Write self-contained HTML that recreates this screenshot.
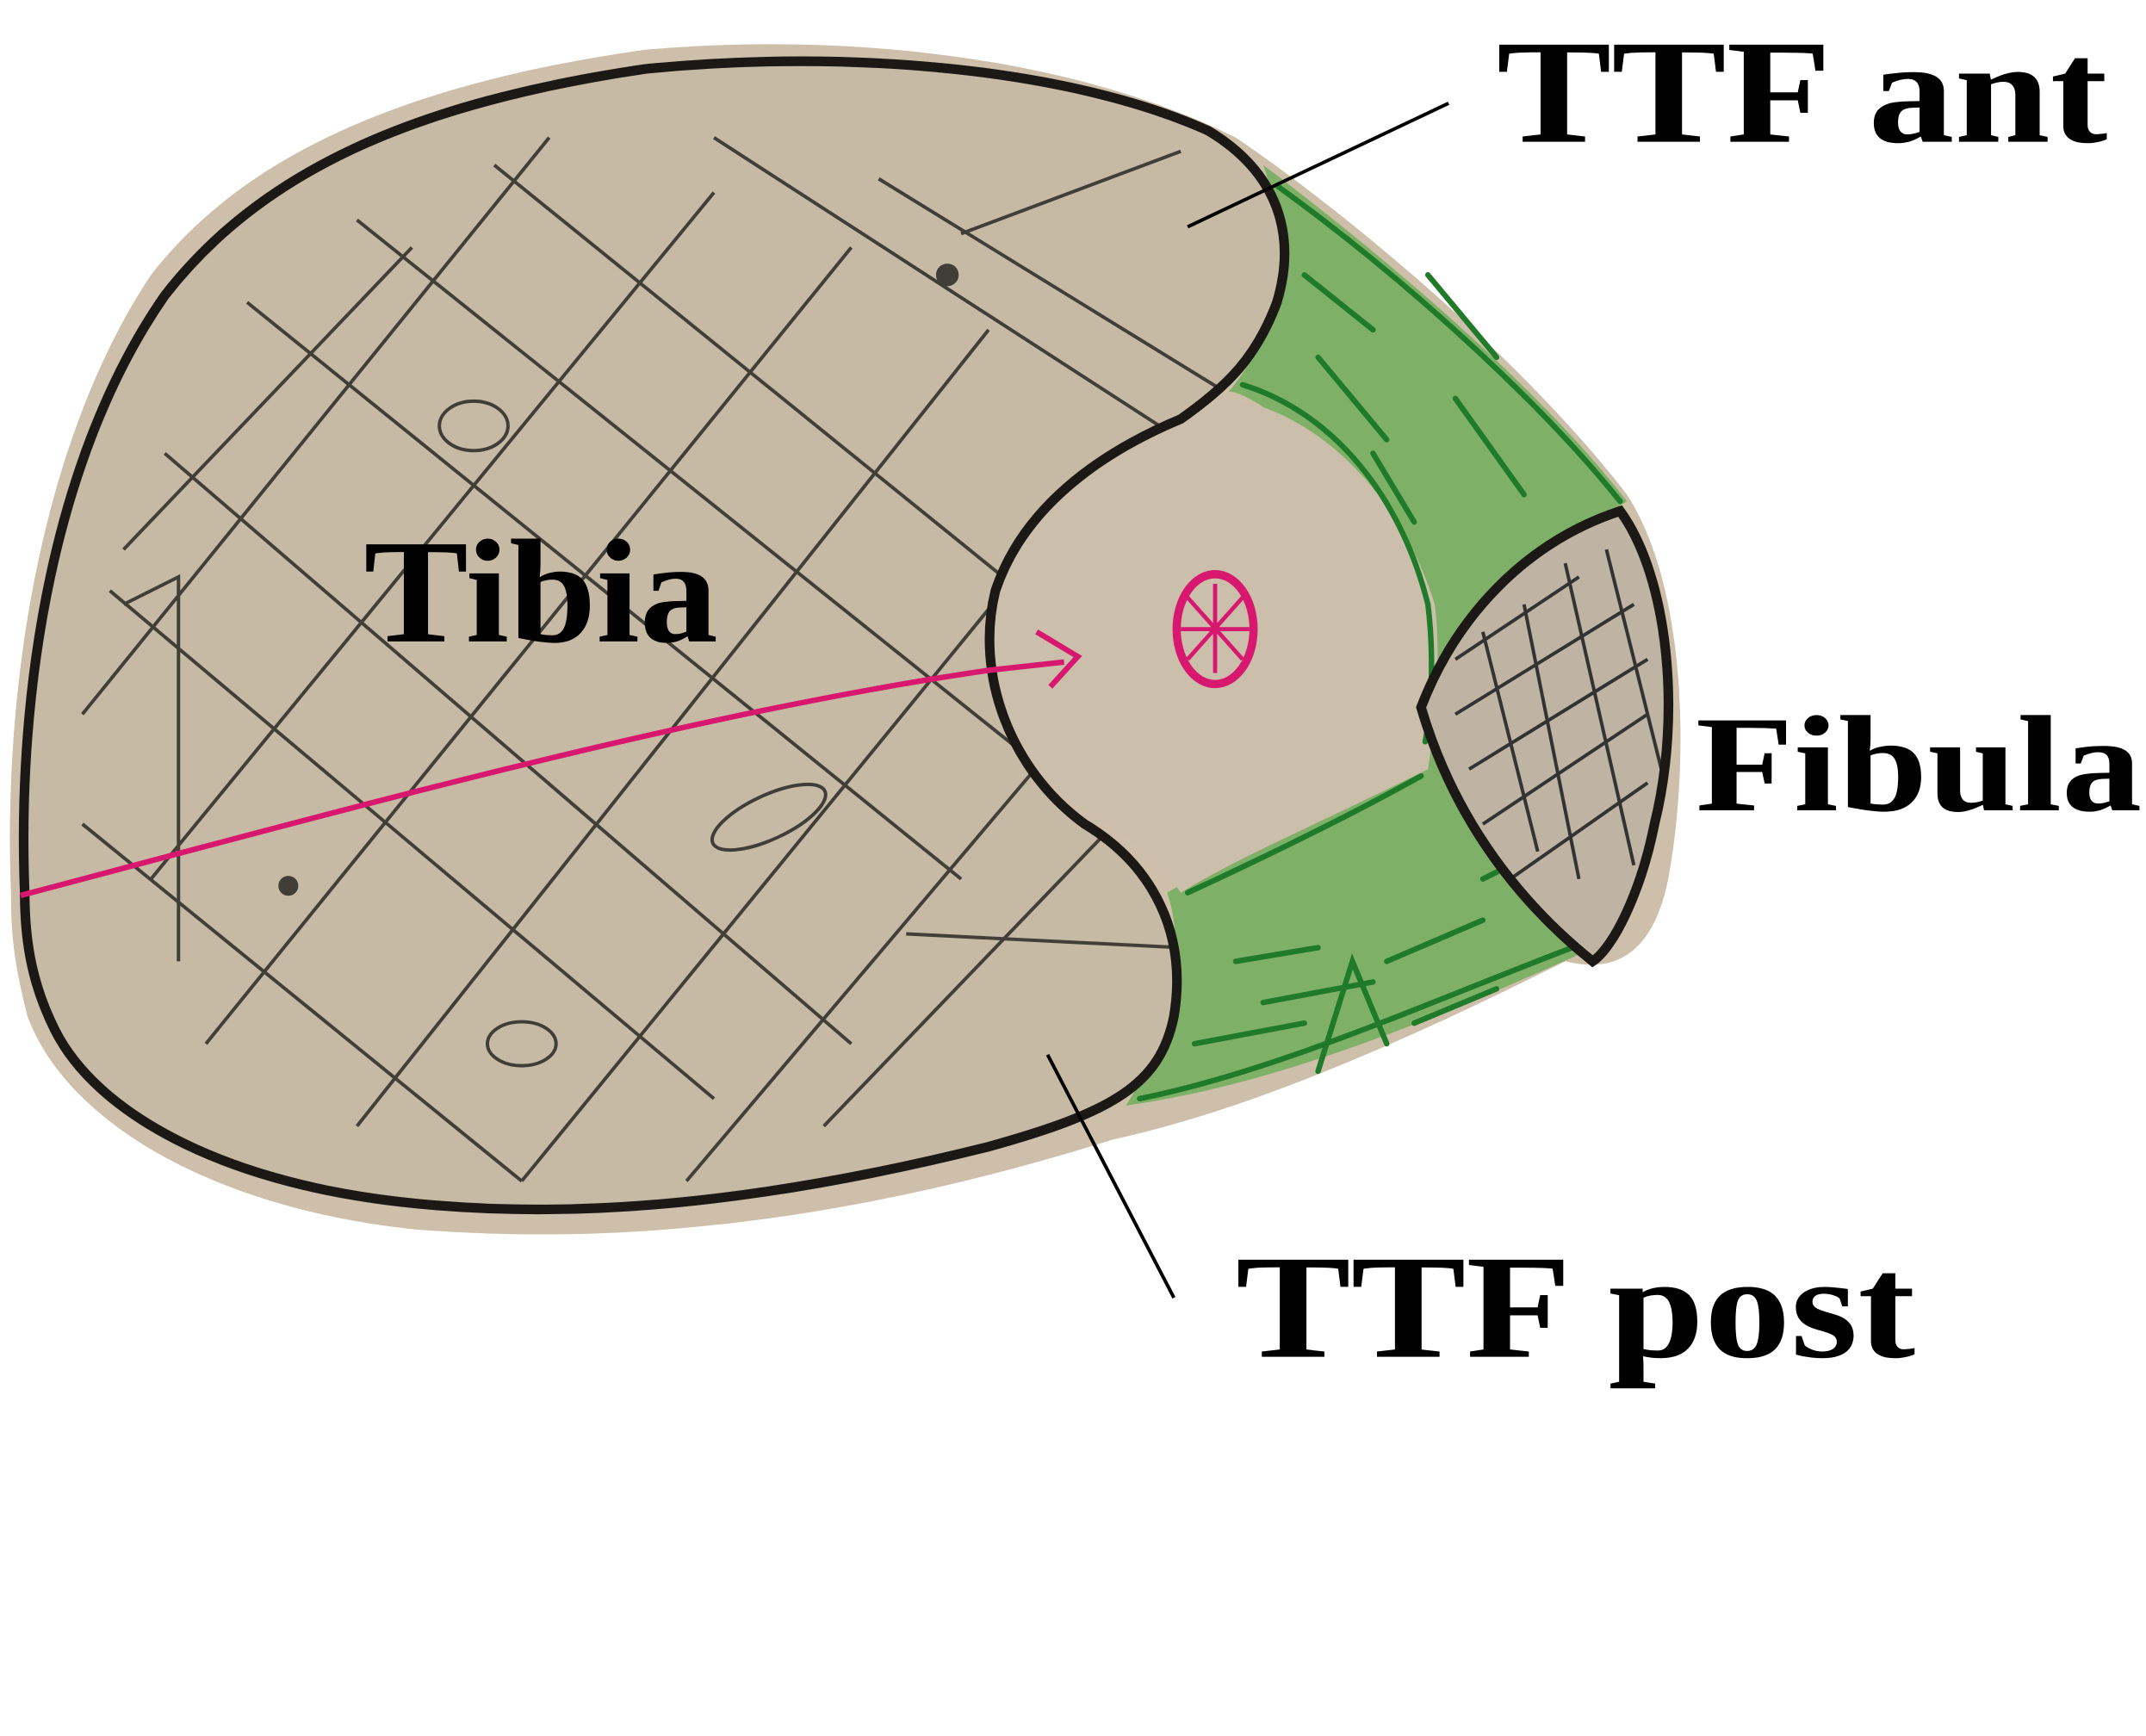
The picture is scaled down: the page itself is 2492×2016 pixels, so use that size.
<!DOCTYPE html>
<html><head><meta charset="utf-8"><style>html,body{margin:0;padding:0;background:#fff}svg{display:block}text{font-family:"Liberation Serif",serif;font-weight:bold}</style></head>
<body>
<svg width="2492" height="2016" viewBox="0 0 1563 1264" xmlns="http://www.w3.org/2000/svg">
<defs>
<path id="tp" d="M18,650 C12,500 40,330 120,215 C190,125 300,75 470,50 C620,35 780,50 880,95 C930,125 945,170 930,220 C915,260 895,280 860,305 C800,330 745,370 725,430 C710,490 735,560 790,600 C840,630 865,680 855,740 C845,790 810,810 720,835 C560,875 420,890 290,875 C160,860 70,810 40,750 C25,720 18,690 18,650 Z"/>
<clipPath id="tib"><use href="#tp"/></clipPath>
<clipPath id="fib"><path d="M1035,515 C1060,450 1110,395 1180,372 C1215,420 1225,520 1205,600 C1195,650 1175,690 1160,700 C1110,660 1060,600 1035,515 Z"/></clipPath>
</defs>
<path d="M8,650 C2,500 30,320 110,200 C180,110 300,60 470,36 C630,22 790,45 900,100 C960,140 1100,250 1185,360 C1230,430 1230,560 1215,640 C1205,690 1180,710 1140,700 C1000,770 900,810 810,830 C650,880 480,910 300,895 C160,880 50,820 20,740 C10,700 8,680 8,650 Z" fill="#cdbfa9"/>
<path d="M920,120 C1000,180 1120,280 1185,365 L1160,380 C1100,400 1060,450 1035,515 C1060,600 1110,660 1150,695 C1050,740 930,790 820,805 C850,760 865,690 850,650 C900,620 960,600 1040,560 C1030,470 1010,380 960,330 C930,300 905,285 895,285 C925,250 945,190 920,120 Z" fill="#7fb067"/>
<path d="M895,290 C960,300 1020,360 1045,440 C1050,480 1045,530 1040,560 C960,600 900,625 860,650 C840,620 800,595 770,575 C730,540 712,480 725,430 C745,370 800,330 860,305 Z" fill="#cbbfac"/>
<g stroke="#1f7a2a" stroke-width="4" fill="none" stroke-linecap="round">
<path d="M930,135 C1020,200 1120,290 1180,365"/>
<path d="M905,280 C970,300 1020,360 1040,440 C1045,480 1042,520 1038,540"/>
<path d="M865,650 C930,620 990,590 1035,565"/>
<path d="M830,800 C930,780 1040,730 1145,690"/>
<path d="M950,200 L1000,240 M960,260 L1010,320 M1040,200 L1090,260 M1060,290 L1110,360 M1000,330 L1030,380 M900,700 L960,690 M920,730 L1000,715 M870,760 L950,745 M1010,700 L1080,670 M1030,745 L1090,720 M960,780 L985,700 L1010,760 M1080,640 L1120,620"/>
</g>
<use href="#tp" fill="#c7baa5"/>
<g clip-path="url(#tib)" stroke="#2a2824" stroke-width="2.5" fill="none" opacity="0.85">
<path d="M60,520 L400,100 M110,640 L520,140 M150,760 L620,180 M260,820 L720,240 M380,860 L780,370 M500,860 L830,470 M90,400 L300,180 M600,820 L850,560 M700,170 L860,110 M80,430 L520,800 M120,330 L620,760 M180,220 L700,640 M260,160 L760,560 M360,120 L780,460 M520,100 L860,320 M640,130 L900,290 M60,600 L380,860 M90,440 L130,420 L130,700 M660,680 L860,690"/>
<ellipse cx="345" cy="310" rx="25" ry="18"/><ellipse cx="560" cy="595" rx="45" ry="16" transform="rotate(-25 560 595)"/><ellipse cx="380" cy="760" rx="25" ry="16"/><circle cx="690" cy="200" r="7" fill="#2a2824"/><circle cx="210" cy="645" r="6" fill="#2a2824"/>
</g>
<use href="#tp" fill="none" stroke="#1c1816" stroke-width="7"/>
<path d="M1035,515 C1060,450 1110,395 1180,372 C1215,420 1225,520 1205,600 C1195,650 1175,690 1160,700 C1110,660 1060,600 1035,515 Z" fill="#bfb4a3"/>
<g clip-path="url(#fib)" stroke="#333" stroke-width="2.5" fill="none">
<path d="M1060,520 L1190,440 M1070,560 L1200,480 M1080,600 L1200,520 M1100,640 L1200,570 M1060,480 L1150,420 M1080,460 L1120,620 M1110,440 L1150,640 M1140,410 L1190,630 M1170,400 L1210,560"/>
</g>
<path d="M1035,515 C1060,450 1110,395 1180,372 C1215,420 1225,520 1205,600 C1195,650 1175,690 1160,700 C1110,660 1060,600 1035,515 Z" fill="none" stroke="#1c1816" stroke-width="7"/>
<path d="M15,652 C250,590 500,520 720,488 L775,482" stroke="#d8186e" stroke-width="4" fill="none"/>
<path d="M755,460 L785,478 L765,500" stroke="#d8186e" stroke-width="4" fill="none"/>
<ellipse cx="885" cy="458" rx="28" ry="40" fill="none" stroke="#d8186e" stroke-width="6"/>
<g stroke="#d8186e" stroke-width="3"><path d="M885,425 L885,490 M860,458 L910,458 M865,435 L905,480 M905,435 L865,480"/></g>
<line x1="1055" y1="75" x2="865" y2="165" stroke="#000" stroke-width="2.5"/>
<line x1="763" y1="768" x2="855" y2="945" stroke="#000" stroke-width="2.5"/>
<g fill="#000">
<text x="1090" y="103" font-size="108" textLength="445" lengthAdjust="spacingAndGlyphs">TTF ant</text>
<text x="265" y="467" font-size="108" textLength="258" lengthAdjust="spacingAndGlyphs">Tibia</text>
<text x="1235" y="590" font-size="100" textLength="325" lengthAdjust="spacingAndGlyphs">Fibula</text>
<text x="900" y="988" font-size="108" textLength="495" lengthAdjust="spacingAndGlyphs">TTF post</text>
</g>
</svg>
</body></html>
